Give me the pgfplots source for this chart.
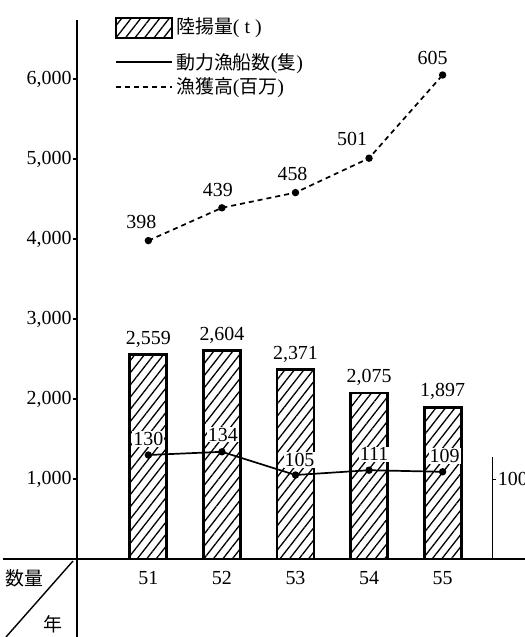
\documentclass[border=0pt]{standalone}
\usepackage{fontspec}
\setmainfont{Liberation Serif}
\newfontfamily\cjk{Noto Sans CJK JP}
\usepackage{pgfplots}
\usepackage{pgfplotstable}
\pgfplotsset{compat=1.18}
\usetikzlibrary{patterns.meta}
\newcommand{\num}{\fontsize{20}{20}\selectfont}
\newcommand{\jp}{\cjk\fontsize{19}{19}\selectfont}
\pgfplotstableread{
year landing
51 2559
52 2604
53 2371
54 2075
55 1897
}\landing
\pgfplotstableread{
year ships
51 130
52 134
53 105
54 111
55 109
}\ships
\pgfplotstableread{
year value
51 398
52 439
53 458
54 501
55 605
}\catchvalue
\tikzset{hatch/.style={pattern={Lines[angle=52,distance=7.5bp,line width=1.3bp]}}}
\begin{document}
\begin{tikzpicture}
\useasboundingbox (0,0) rectangle (525bp,-637bp);
\begin{axis}[
  at={(77bp,-559bp)}, anchor=south west,
  scale only axis, width=448bp, height=539bp,
  xmin=50.03, xmax=56.12, ymin=0, ymax=6737.5,
  axis line style={draw=none},
  xtick={51,52,53,54,55},
  ytick={1000,2000,3000,4000,5000,6000},
  x tick style={draw=none},
  y tick style={black, line width=1.2bp},
  tick align=outside, major tick length=4bp,
  tick label style={font=\num},
  x tick label style={yshift=-5bp},
  y tick label style={xshift=2bp},
  scaled y ticks=false,
  /pgf/number format/assume math mode=true,
  /pgf/number format/1000 sep={,},
  /pgf/number format/fixed,
  /pgf/number format/precision=0,
  clip=false,
]
\addplot[ybar, bar width=37bp, fill=white, draw=none,
  postaction={hatch},
  nodes near coords,
  every node near coord/.append style={font=\num, anchor=south, inner sep=1bp, yshift=6bp, fill=none}]
  table[x=year, y=landing] {\landing};
\addplot[ybar, bar width=37bp, draw=black, line width=2.8bp, fill=none]
  table[x=year, y=landing] {\landing};
\end{axis}
\begin{axis}[
  at={(77bp,-559bp)}, anchor=south west,
  scale only axis, width=448bp, height=539bp,
  xmin=50.03, xmax=56.12, ymin=0, ymax=673.75,
  hide axis, clip=false,
]
\addplot[black, line width=1.7bp, mark=*, mark size=2.8bp]
  table[x=year, y=ships] {\ships};
\addplot[black, line width=1.7bp, dash pattern=on 5bp off 4bp, mark=*, mark options={solid}, mark size=2.8bp]
  table[x=year, y=value] {\catchvalue};
% ship labels
\node[font=\num, fill=white, inner sep=1bp] at ([yshift=16bp]axis cs:51,130) {130};
\node[font=\num, fill=white, inner sep=1bp] at ([xshift=1bp,yshift=17bp]axis cs:52,134) {134};
\node[font=\num, fill=white, inner sep=1bp] at ([xshift=4bp,yshift=15bp]axis cs:53,105) {105};
\node[font=\num, fill=white, inner sep=1bp] at ([xshift=5bp,yshift=16bp]axis cs:54,111) {111};
\node[font=\num, fill=white, inner sep=1bp] at ([xshift=2bp,yshift=16bp]axis cs:55,109) {109};
% catch value labels
\node[font=\num, inner sep=1bp] at ([xshift=-7bp,yshift=19bp]axis cs:51,398) {398};
\node[font=\num, inner sep=1bp] at ([xshift=-4bp,yshift=18bp]axis cs:52,439) {439};
\node[font=\num, inner sep=1bp] at ([xshift=-3bp,yshift=19bp]axis cs:53,458) {458};
\node[font=\num, inner sep=1bp] at ([xshift=-17bp,yshift=19bp]axis cs:54,501) {501};
\node[font=\num, inner sep=1bp] at ([xshift=-10bp,yshift=17bp]axis cs:55,605) {605};
% right partial axis
\draw[line width=1.2bp] (axis cs:55.68,0) -- (axis cs:55.68,128);
\draw[line width=1bp] (axis cs:55.68,100) -- ([xshift=3bp]axis cs:55.68,100);
\node[font=\num, anchor=west, inner sep=0bp] at ([xshift=5bp]axis cs:55.68,100) {100};
\end{axis}
% axes lines
\draw[line width=1.6bp] (77bp,-20bp) -- (77bp,-637bp);
\draw[line width=1.6bp] (3bp,-559bp) -- (525bp,-559bp);
\draw[line width=1.4bp] (6bp,-637bp) -- (73bp,-561bp);
\node[font=\jp, inner sep=0bp] at (24bp,-578bp) {数量};
\node[font=\jp, inner sep=0bp] at (53bp,-624bp) {年};
% legend
\fill[white] (116bp,-18bp) rectangle (172bp,-38bp);
\path[hatch] (116bp,-18bp) rectangle (172bp,-38bp);
\draw[line width=2.4bp] (116bp,-18bp) rectangle (172bp,-38bp);
\node[anchor=west, inner sep=0bp] at (176bp,-28bp) {{\jp 陸揚量}{\num( t )}};
\draw[line width=1.8bp] (116bp,-62bp) -- (172bp,-62bp);
\node[anchor=west, inner sep=0bp] at (176bp,-64bp) {{\jp 動力漁船数}{\num(}{\jp 隻}{\num)}};
\draw[line width=1.8bp, dash pattern=on 5bp off 4bp] (116bp,-87bp) -- (172bp,-87bp);
\node[anchor=west, inner sep=0bp] at (176bp,-88bp) {{\jp 漁獲高}{\num(}{\jp 百万}{\num)}};
\end{tikzpicture}
\end{document}
